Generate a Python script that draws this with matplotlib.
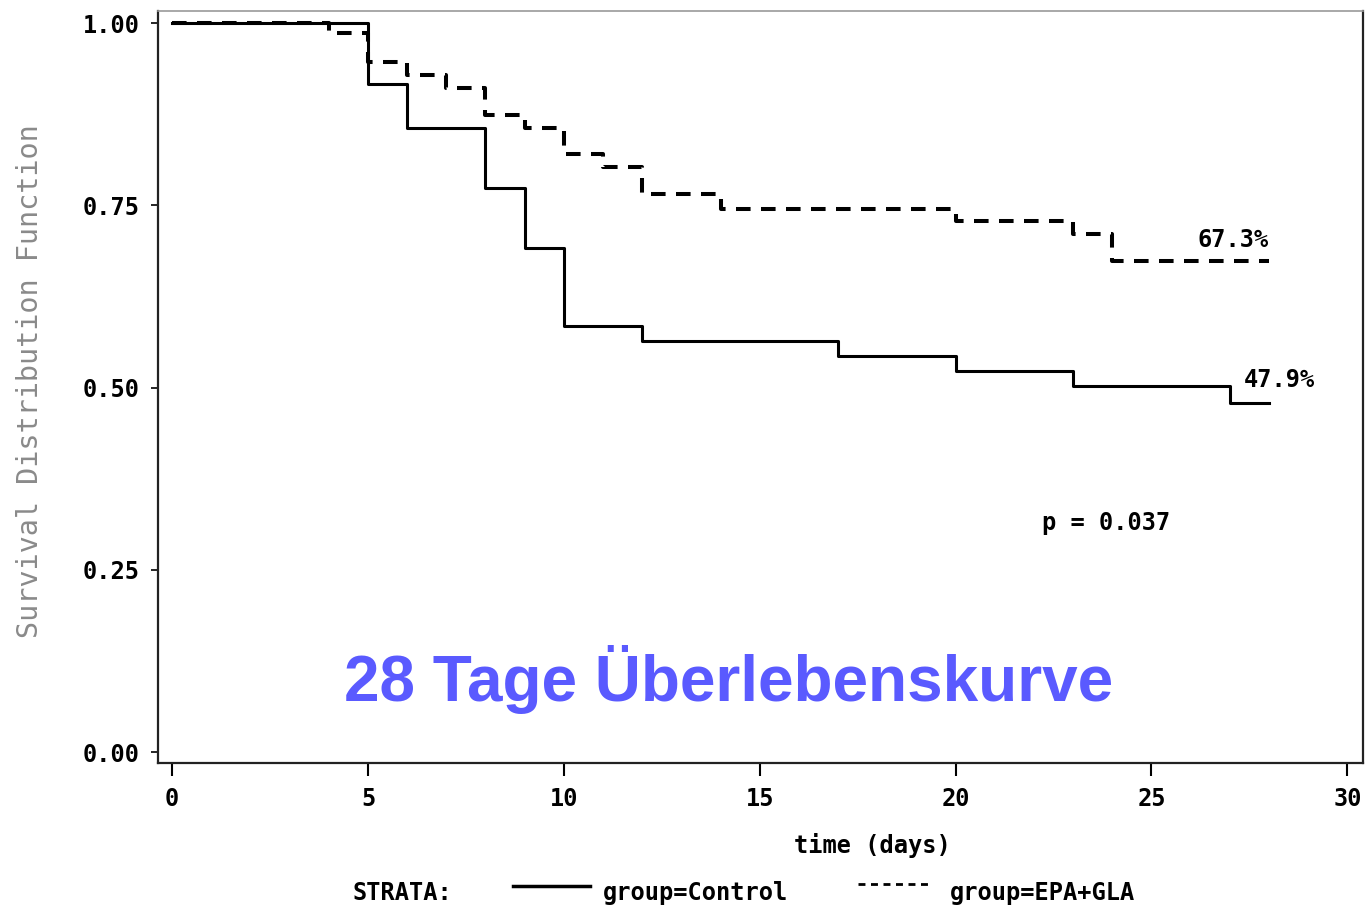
import matplotlib
matplotlib.use("Agg")
import matplotlib.pyplot as plt
from matplotlib.lines import Line2D

# Kaplan-Meier steps
control_days = [0, 5, 6, 8, 9, 10, 12, 17, 20, 23, 27, 28]
control_surv = [1.0, 0.917, 0.856, 0.774, 0.691, 0.584, 0.564, 0.543, 0.523, 0.502, 0.479, 0.479]

epa_days = [0, 4, 5, 6, 7, 8, 9, 10, 11, 12, 14, 20, 23, 24, 28]
epa_surv = [1.0, 0.986, 0.947, 0.929, 0.911, 0.874, 0.856, 0.820, 0.802, 0.765, 0.745, 0.728, 0.711, 0.673, 0.673]

x_ticks = [0, 5, 10, 15, 20, 25, 30]
y_ticks = [0.0, 0.25, 0.5, 0.75, 1.0]

mono = "DejaVu Sans Mono"
fs = 17
plt.rcParams['lines.scale_dashes'] = False

fig = plt.figure(figsize=(13.68, 9.09), dpi=100)
ax = fig.add_axes([158 / 1368, 1 - 763 / 909, (1363 - 158) / 1368, (763 - 11) / 909])

ax.step(control_days, control_surv, where='post', color='black', lw=2.2)
ax.step(epa_days, epa_surv, where='post', color='black', lw=2.9, linestyle=(0, (10.5, 7.5)))

ax.set_xlim(-0.36, 30.4)
ax.set_ylim(-0.015, 1.0165)
ax.set_xticks(x_ticks)
ax.set_yticks(y_ticks)
ax.set_xticklabels([str(t) for t in x_ticks], fontfamily=mono, fontweight='bold', fontsize=fs)
ax.set_yticklabels(["%.2f" % t for t in y_ticks], fontfamily=mono, fontweight='bold', fontsize=fs)
ax.tick_params(axis='x', direction='out', length=9, width=1.5, pad=8)
ax.tick_params(axis='y', direction='out', length=5, width=1.2, pad=8)

for s in ['left', 'bottom', 'right']:
    ax.spines[s].set_linewidth(1.6)
    ax.spines[s].set_color('#222222')
ax.spines['top'].set_linewidth(1.2)
ax.spines['top'].set_color('#999999')

# end labels and p value
ax.text(28.0, 0.702, "67.3%", fontfamily=mono, fontweight='bold', fontsize=fs,
        ha='right', va='center')
ax.text(27.35, 0.51, "47.9%", fontfamily=mono, fontweight='bold', fontsize=fs,
        ha='left', va='center')
ax.text(22.2, 0.314, "p = 0.037", fontfamily=mono, fontweight='bold', fontsize=fs,
        ha='left', va='center')

ax.text(14.2, 0.10, "28 Tage Überlebenskurve", fontfamily="Liberation Sans", fontweight='bold',
        fontsize=46, color='#5A5AFF', ha='center', va='center')

# axis labels
fig.text(30 / 1368, 1 - 381 / 909, "Survival Distribution Function", rotation=90,
         fontfamily=mono, fontsize=20.5, color='#8a8a8a', ha='center', va='center')
fig.text(872 / 1368, 1 - 845 / 909, "time (days)", fontfamily=mono, fontweight='bold',
         fontsize=fs, ha='center', va='center')

# legend row
ly = 1 - 893 / 909
fig.text(352 / 1368, ly, "STRATA:", fontfamily=mono, fontweight='bold', fontsize=fs,
         ha='left', va='center')
fig.add_artist(Line2D([513 / 1368, 590 / 1368], [1 - 886 / 909] * 2, color='black', lw=2.5,
                      transform=fig.transFigure))
fig.text(603 / 1368, ly, "group=Control", fontfamily=mono, fontweight='bold', fontsize=fs,
         ha='left', va='center')
fig.add_artist(Line2D([858 / 1368, 928 / 1368], [1 - 884 / 909] * 2, color='black', lw=2,
                      linestyle=(0, (5, 4)), transform=fig.transFigure))
fig.text(950 / 1368, ly, "group=EPA+GLA", fontfamily=mono, fontweight='bold', fontsize=fs,
         ha='left', va='center')

fig.savefig("out.png", dpi=100)
